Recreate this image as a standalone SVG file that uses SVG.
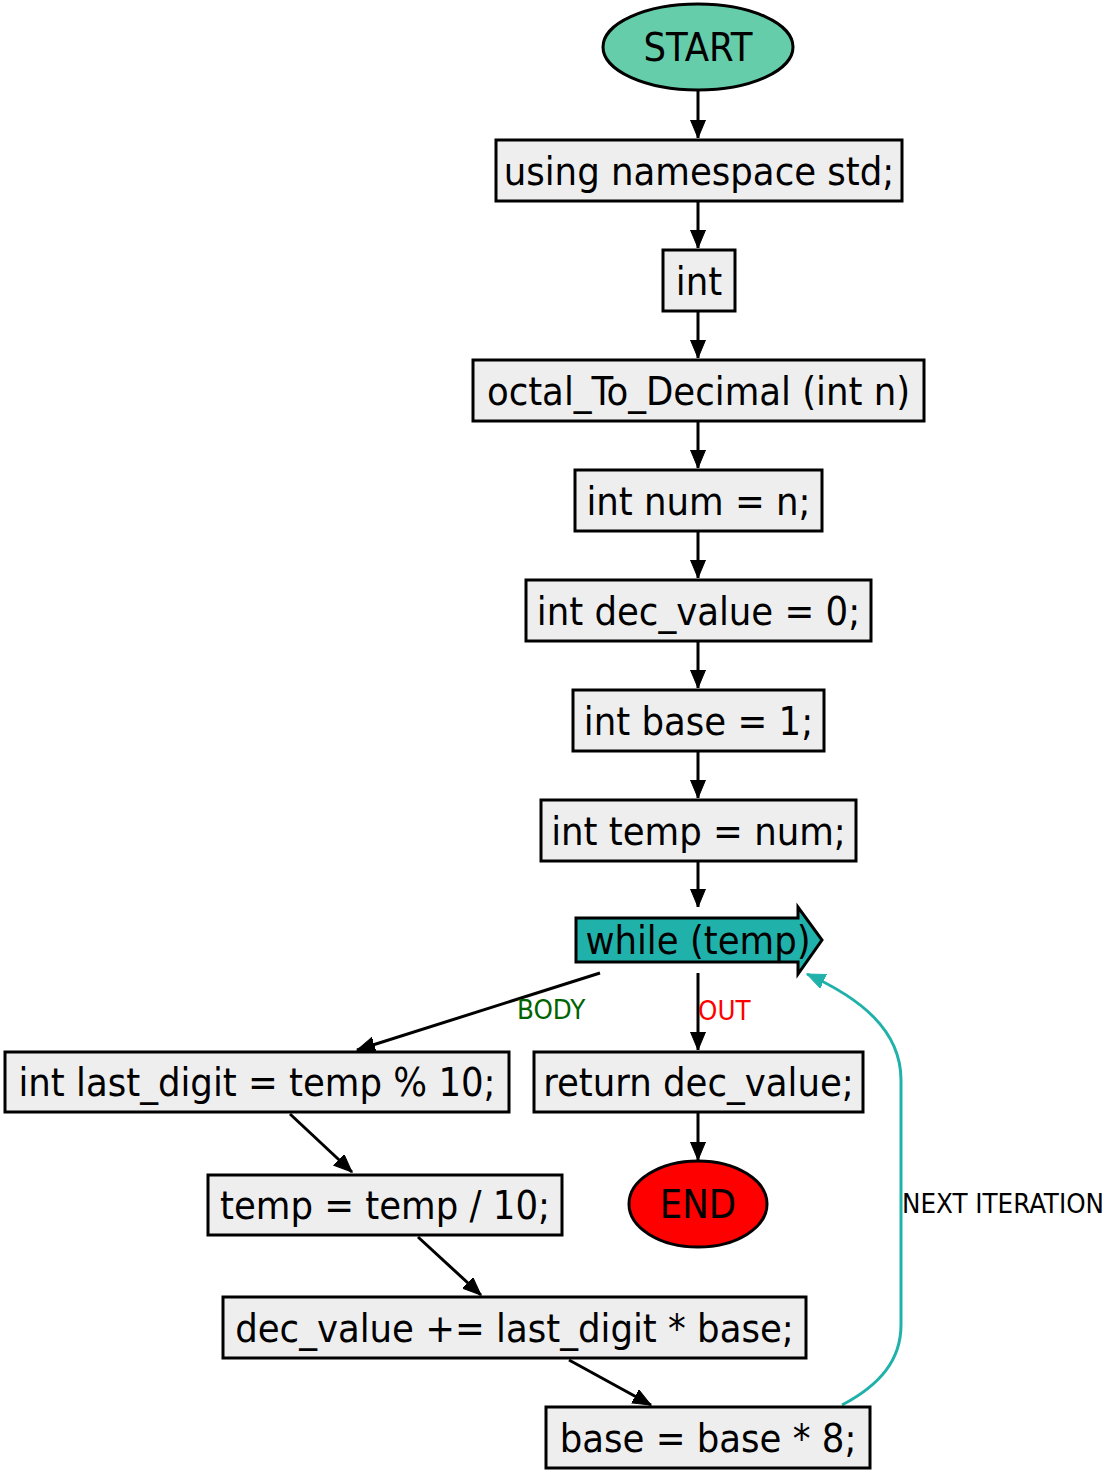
<svg xmlns="http://www.w3.org/2000/svg" width="1114" height="1473" viewBox="0 0 1114 1473">
<defs>
<style>
.n{fill:#eeeeee;stroke:#000;stroke-width:3}
.t{font-family:"DejaVu Sans Condensed","DejaVu Sans",sans-serif;font-stretch:condensed;font-size:39.5px;fill:#000;text-anchor:middle}
.l{font-family:"DejaVu Sans Condensed","DejaVu Sans",sans-serif;font-stretch:condensed;font-size:27.4px}
.e{fill:none;stroke:#000;stroke-width:3}
</style>
<marker id="ah" markerUnits="userSpaceOnUse" markerWidth="22" markerHeight="18" refX="18" refY="7.5" orient="auto" viewBox="0 0 22 18">
<path d="M0,0 L18,7.5 L0,15 Z" fill="#000" stroke="#000" stroke-width="1"/>
</marker>
<marker id="ahc" markerUnits="userSpaceOnUse" markerWidth="22" markerHeight="18" refX="18" refY="7.5" orient="auto" viewBox="0 0 22 18">
<path d="M0,0 L18,7.5 L0,15 Z" fill="#20b2aa" stroke="#20b2aa" stroke-width="1"/>
</marker>
</defs>
<rect width="1114" height="1473" fill="#fff"/>
<g id="edges">
<path class="e" d="M698,91 L698,138" marker-end="url(#ah)"/>
<path class="e" d="M698,202 L698,248" marker-end="url(#ah)"/>
<path class="e" d="M698,312 L698,358" marker-end="url(#ah)"/>
<path class="e" d="M698,422 L698,468" marker-end="url(#ah)"/>
<path class="e" d="M698,532 L698,578" marker-end="url(#ah)"/>
<path class="e" d="M698,642 L698,688" marker-end="url(#ah)"/>
<path class="e" d="M698,752 L698,798" marker-end="url(#ah)"/>
<path class="e" d="M698,862 L698,907" marker-end="url(#ah)"/>
<path class="e" d="M600,973 L357,1050" marker-end="url(#ah)"/>
<text class="l" x="517" y="1019" fill="#006400">BODY</text>
<path class="e" d="M698,973 L698,1050" marker-end="url(#ah)"/>
<text class="l" x="698" y="1020" fill="#ff0000">OUT</text>
<path class="e" d="M698,1113 L698,1160" marker-end="url(#ah)"/>
<path class="e" d="M290,1114 L352,1172" marker-end="url(#ah)"/>
<path class="e" d="M418,1237 L481,1295" marker-end="url(#ah)"/>
<path class="e" d="M569,1360 L651,1405" marker-end="url(#ah)"/>
<path d="M842,1405 C880,1385 901,1360 901,1325 L901,1080 C901,1030 860,998 807,974" fill="none" stroke="#20b2aa" stroke-width="3" marker-end="url(#ahc)"/>
<text class="l" x="902" y="1213" fill="#000">NEXT ITERATION</text>
</g>
<g id="start"><ellipse cx="698" cy="47" rx="95" ry="43" fill="#66cdaa" stroke="#000" stroke-width="3"/><text class="t" x="698" y="61">START</text></g>
<g id="n1"><rect class="n" x="496" y="140" width="406" height="61"/><text class="t" x="699" y="185">using namespace std;</text></g>
<g id="n2"><rect class="n" x="663" y="250" width="72" height="61"/><text class="t" x="699" y="295">int</text></g>
<g id="n3"><rect class="n" x="473" y="360" width="451" height="61"/><text class="t" x="698.5" y="405">octal_To_Decimal (int n)</text></g>
<g id="n4"><rect class="n" x="575" y="470" width="247" height="61"/><text class="t" x="698.5" y="515">int num = n;</text></g>
<g id="n5"><rect class="n" x="526" y="580" width="345" height="61"/><text class="t" x="698.5" y="625">int dec_value = 0;</text></g>
<g id="n6"><rect class="n" x="573" y="690" width="251" height="61"/><text class="t" x="698.5" y="735">int base = 1;</text></g>
<g id="n7"><rect class="n" x="541" y="800" width="315" height="61"/><text class="t" x="698.5" y="845">int temp = num;</text></g>
<g id="while"><polygon points="576,918 798,918 798,907 822,940 798,974 798,962 576,962" fill="#20b2aa" stroke="#000" stroke-width="3"/><text class="t" x="698" y="954">while (temp)</text></g>
<g id="n8"><rect class="n" x="5" y="1052" width="504" height="60"/><text class="t" x="257" y="1096">int last_digit = temp % 10;</text></g>
<g id="n9"><rect class="n" x="534" y="1052" width="329" height="60"/><text class="t" x="698.5" y="1096">return dec_value;</text></g>
<g id="end"><ellipse cx="698" cy="1204" rx="69" ry="43" fill="#ff0000" stroke="#000" stroke-width="3"/><text class="t" x="698" y="1218">END</text></g>
<g id="n10"><rect class="n" x="208" y="1175" width="354" height="60"/><text class="t" x="385" y="1219">temp = temp / 10;</text></g>
<g id="n11"><rect class="n" x="223" y="1297" width="583" height="61"/><text class="t" x="514.5" y="1342">dec_value += last_digit * base;</text></g>
<g id="n12"><rect class="n" x="546" y="1407" width="324" height="61"/><text class="t" x="708" y="1452">base = base * 8;</text></g>
</svg>
